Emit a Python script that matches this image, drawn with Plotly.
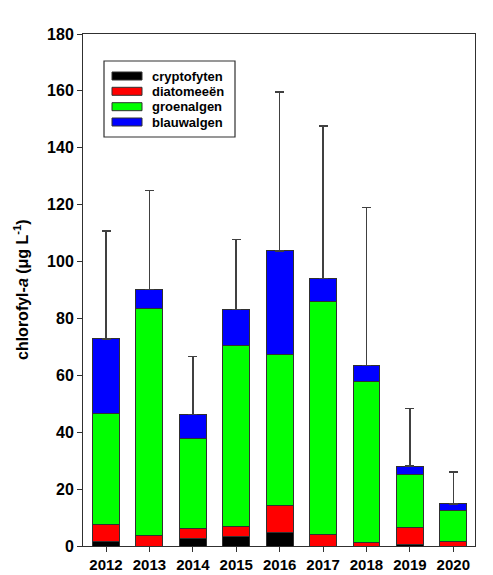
import plotly.graph_objects as go

years = ["2012", "2013", "2014", "2015", "2016", "2017", "2018", "2019", "2020"]

# cumulative chlorophyll-a per group, read as stacked totals
cryptofyten = [1.6, 0.0, 2.8, 3.5, 4.8, 0.0, 0.0, 0.7, 0.0]
diatomeeen_top = [7.4, 3.8, 6.2, 6.9, 14.1, 4.2, 1.4, 6.4, 1.6]
groenalgen_top = [46.6, 83.4, 37.7, 70.6, 67.4, 85.8, 57.8, 25.0, 12.6]
blauwalgen_top = [72.8, 90.1, 46.2, 83.1, 103.8, 94.1, 63.4, 28.1, 14.8]
upper_sd = [110.7, 124.9, 66.7, 107.8, 159.6, 147.6, 119.0, 48.3, 26.1]

diatomeeen = [b - a for a, b in zip(cryptofyten, diatomeeen_top)]
groenalgen = [b - a for a, b in zip(diatomeeen_top, groenalgen_top)]
blauwalgen = [b - a for a, b in zip(groenalgen_top, blauwalgen_top)]
err_plus = [e - t for e, t in zip(upper_sd, blauwalgen_top)]

groups = ["cryptofyten", "diatomeeën", "groenalgen", "blauwalgen"]
colors = ["#000000", "#ff0000", "#00ff00", "#0000ff"]
values = [cryptofyten, diatomeeen, groenalgen, blauwalgen]

FONT = "Liberation Sans, Arial, sans-serif"
W, H = 493, 575
ML, MR, MT, MB = 83, 18, 34, 29
PW, PH = W - ML - MR, H - MT - MB

fig = go.Figure()
for i, (name, col, vals) in enumerate(zip(groups, colors, values)):
    kw = {}
    if i == len(groups) - 1:
        kw["error_y"] = dict(type="data", symmetric=False, array=err_plus,
                             arrayminus=[0] * len(years), color="#404040",
                             thickness=1.5, width=4.5)
    fig.add_trace(go.Bar(x=years, y=vals, name=name, marker_color=col,
                         marker_line=dict(color="#303030", width=1),
                         showlegend=False, **kw))

# helpers: pixel position -> paper fraction
def px(x):
    return (x - ML) / PW

def py(y):
    return (H - MB - y) / PH

# legend box
shapes = [dict(type="rect", xref="paper", yref="paper",
               x0=px(104), x1=px(235), y0=py(137), y1=py(61),
               line=dict(color="#303030", width=1.2), fillcolor="white")]
annotations = []
row_y = [76, 91.3, 106.7, 122]
for name, col, yc in zip(groups, colors, row_y):
    shapes.append(dict(type="rect", xref="paper", yref="paper",
                       x0=px(112), x1=px(142), y0=py(yc + 4), y1=py(yc - 4),
                       line=dict(color="#303030", width=1), fillcolor=col))
    annotations.append(dict(xref="paper", yref="paper", x=px(150), y=py(yc),
                            text=f"<b>{name}</b>", showarrow=False,
                            xanchor="left", yanchor="middle",
                            font=dict(family=FONT, size=13, color="black")))

# y-axis title
annotations.append(dict(xref="paper", yref="paper", x=px(21), y=0.5,
                        text="<b>chlorofyl-<i>a</i> (μg L<sup>-1</sup>)</b>",
                        textangle=-90, showarrow=False,
                        xanchor="center", yanchor="middle",
                        font=dict(family=FONT, size=16, color="black")))

fig.update_layout(
    barmode="stack",
    bargap=0.38,
    width=W, height=H,
    margin=dict(l=ML, r=MR, t=MT, b=MB),
    paper_bgcolor="white", plot_bgcolor="white",
    shapes=shapes, annotations=annotations,
    font=dict(family=FONT, color="black"),
)
fig.update_xaxes(range=[-0.53, 8.5], showline=True, linecolor="#303030",
                 linewidth=1, mirror=True, ticks="outside", ticklen=5,
                 tickcolor="#303030", automargin=False,
                 tickfont=dict(family=FONT, size=15, color="black", weight="bold"),
                 showgrid=False)
fig.update_yaxes(range=[0, 180], dtick=20, showline=True, linecolor="#303030",
                 linewidth=1, mirror=True, ticks="outside", ticklen=5,
                 tickcolor="#303030", zeroline=False, showgrid=False,
                 automargin=False,
                 tickfont=dict(family=FONT, size=16, color="black", weight="bold"))

fig.write_html("out.html")
